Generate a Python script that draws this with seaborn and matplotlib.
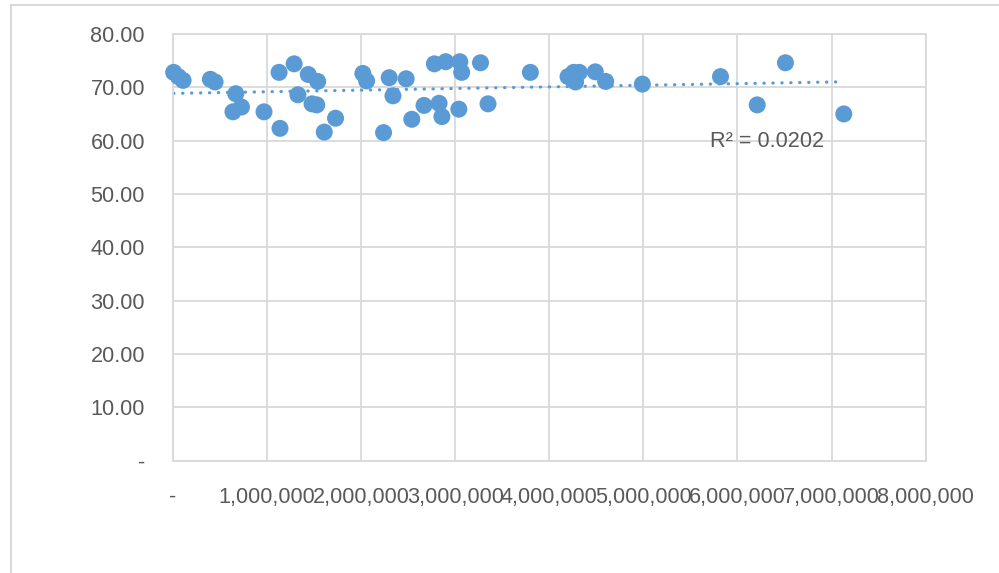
import matplotlib
matplotlib.use("Agg")
import matplotlib.pyplot as plt
from matplotlib.lines import Line2D
from matplotlib.ticker import FuncFormatter, MultipleLocator
import seaborn as sns
import numpy as np
import pandas as pd

# values (x in units of people, y in years)
x_values = [10000, 60000, 110000, 400000, 450000, 670000, 640000, 730000, 970000,
            1130000, 1140000, 1290000, 1440000, 1540000, 1330000, 1480000, 1530000,
            1730000, 1610000, 2020000, 2060000, 2300000, 2340000, 2480000, 2240000,
            2540000, 2670000, 2780000, 2900000, 2830000, 2860000, 3050000, 3070000,
            3040000, 3270000, 3350000, 3800000, 4200000, 4260000, 4320000, 4280000,
            4490000, 4600000, 4990000, 5820000, 6210000, 6510000, 7130000]
y_values = [72.8, 72.0, 71.3, 71.5, 71.0, 68.8, 65.4, 66.3, 65.4,
            72.8, 62.3, 74.4, 72.4, 71.1, 68.6, 66.9, 66.7,
            64.2, 61.6, 72.6, 71.2, 71.8, 68.4, 71.6, 61.5,
            64.0, 66.6, 74.4, 74.8, 67.0, 64.5, 74.8, 72.8,
            65.9, 74.6, 66.9, 72.8, 72.0, 72.8, 72.8, 71.0,
            72.9, 71.1, 70.6, 72.0, 66.7, 74.6, 65.0]
r2_label = "R² = 0.0202"

df = pd.DataFrame({"x": x_values, "y": y_values})

blue = "#5B9BD5"
grid = "#D9D9D9"
txt = "#595959"

sns.set_style("white")
plt.rcParams["font.family"] = ["Liberation Sans", "DejaVu Sans"]

fig = plt.figure(figsize=(9.99, 5.73), dpi=100)
ax = fig.add_axes([0.1729, 0.1963, 0.7537, 0.7444])

# linear trendline over the data range
coef = np.polyfit(df["x"], df["y"], 1)
tx = np.array([df["x"].min(), df["x"].max()])
ax.plot(tx, np.polyval(coef, tx), color=blue, lw=2.3,
        linestyle=(0, (0.1, 2.7)), dash_capstyle="round", zorder=2)

sns.scatterplot(data=df, x="x", y="y", ax=ax, color=blue, s=150,
                edgecolor="none", linewidth=0, zorder=3, clip_on=False)

ax.set_xlim(0, 8000000)
ax.set_ylim(0, 80)
ax.xaxis.set_major_locator(MultipleLocator(1000000))
ax.yaxis.set_major_locator(MultipleLocator(10))
ax.xaxis.set_major_formatter(FuncFormatter(lambda v, p: "-" if v == 0 else f"{v:,.0f}"))
ax.yaxis.set_major_formatter(FuncFormatter(lambda v, p: "-" if v == 0 else f"{v:.2f}"))
ax.grid(True, color=grid, lw=1.3)
ax.set_axisbelow(True)
for s in ax.spines.values():
    s.set_color(grid)
    s.set_linewidth(1.3)
ax.tick_params(axis="both", length=0, labelsize=15.6, colors=txt)
ax.tick_params(axis="x", pad=19)
ax.tick_params(axis="y", pad=20)
ax.set_xlabel("")
ax.set_ylabel("")

ax.text(0.790, 0.749, r2_label, transform=ax.transAxes, ha="center", va="center",
        fontsize=15.6, color=txt)

# outer chart border (top and left edges visible)
fig.add_artist(Line2D([11 / 999, 1], [1 - 5 / 573, 1 - 5 / 573], color=grid, lw=1.5,
                      transform=fig.transFigure))
fig.add_artist(Line2D([11 / 999, 11 / 999], [0, 1 - 5 / 573], color=grid, lw=1.5,
                      transform=fig.transFigure))

fig.savefig("out.png", dpi=100)
